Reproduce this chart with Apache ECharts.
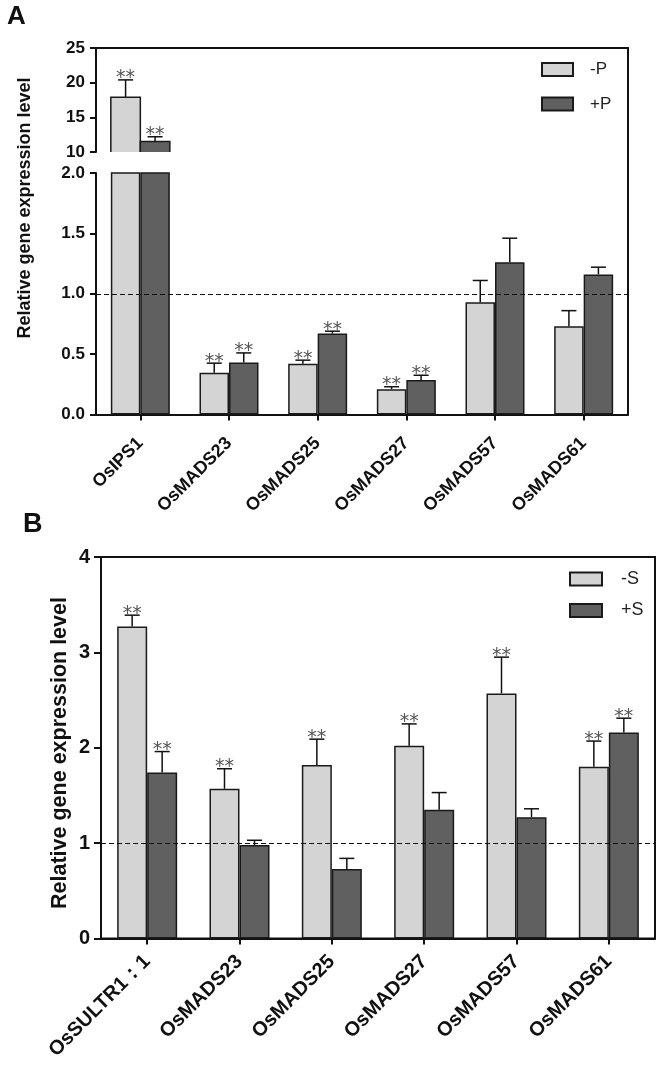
<!DOCTYPE html>
<html>
<head>
<meta charset="utf-8">
<script src="https://cdn.jsdelivr.net/npm/echarts@6/dist/echarts.min.js"></script>
<style>html,body{margin:0;padding:0;background:#fff}#c{width:664px;height:1070px}</style>
</head>
<body>
<div id="c"></div>
<script>
// ---- Panel A data ----
const catsA = ['OsIPS1', 'OsMADS23', 'OsMADS25', 'OsMADS27', 'OsMADS57', 'OsMADS61'];
const minusP = [17.9, 0.345, 0.42, 0.21, 0.93, 0.73];
const minusPErr = [2.5, 0.08, 0.03, 0.02, 0.18, 0.13];
const plusP = [11.5, 0.43, 0.67, 0.285, 1.26, 1.16];
const plusPErr = [0.7, 0.08, 0.02, 0.04, 0.20, 0.06];
const sigMinusP = [1, 1, 1, 1, 0, 0];
const sigPlusP = [1, 1, 1, 1, 0, 0];
const ticksAUpper = [10, 25, 5];   // min, max, interval
const ticksALower = [0, 2, 0.5];

// ---- Panel B data ----
const catsB = ['OsSULTR1：1', 'OsMADS23', 'OsMADS25', 'OsMADS27', 'OsMADS57', 'OsMADS61'];
const minusS = [3.27, 1.57, 1.82, 2.02, 2.57, 1.80];
const minusSErr = [0.12, 0.21, 0.27, 0.23, 0.38, 0.27];
const plusS = [1.74, 0.98, 0.73, 1.35, 1.27, 2.16];
const plusSErr = [0.22, 0.05, 0.11, 0.18, 0.09, 0.15];
const sigMinusS = [1, 1, 1, 1, 1, 1];
const sigPlusS = [1, 0, 0, 0, 0, 1];
const ticksB = [0, 4, 1];

const LIGHT = '#d4d4d4', DARK = '#606060', INK = '#111';
const FONT = '"Liberation Sans", Arial, sans-serif';

function errSeries(xi, yi, vals, errs, sig, side, bw, lo, hi) {
  const data = vals.map((v, i) => [i, v, errs[i], sig[i]])
    .filter(d => d[1] >= lo && d[1] + d[2] <= hi);
  return {
    type: 'custom', xAxisIndex: xi, yAxisIndex: yi, data: data, z: 5, silent: true,
    renderItem: function (params, api) {
      const c = api.value(0), v = api.value(1), e = api.value(2), s = api.value(3);
      const b = api.coord([c, v]);
      const t = api.coord([c, v + e]);
      const x = b[0] + side * bw / 2;
      const ch = [
        { type: 'line', shape: { x1: x, y1: b[1], x2: x, y2: t[1] }, style: { stroke: INK, lineWidth: 1.5 } },
        { type: 'line', shape: { x1: x - 7.5, y1: t[1], x2: x + 7.5, y2: t[1] }, style: { stroke: INK, lineWidth: 1.5 } }
      ];
      if (s) {
        ch.push({ type: 'text', x: x, y: t[1] + 8, style: { text: '**', font: '19px "DejaVu Sans"', fill: '#555', align: 'center', verticalAlign: 'bottom' } });
      }
      return { type: 'group', children: ch };
    }
  };
}

// Bars of the upper (broken) segment: open at the bottom, like the reference
function upperBars(xi, yi, vals, color, side, bw, lo) {
  const data = vals.map((v, i) => [i, v]).filter(d => d[1] >= lo);
  return {
    type: 'custom', xAxisIndex: xi, yAxisIndex: yi, data: data, z: 2, silent: true,
    renderItem: function (params, api) {
      const c = api.value(0), v = api.value(1);
      const t = api.coord([c, v]);
      const b = api.coord([c, lo]);
      const x0 = side < 0 ? t[0] - bw : t[0];
      const x1 = x0 + bw;
      return {
        type: 'group', children: [
          { type: 'rect', shape: { x: x0, y: t[1], width: bw, height: b[1] - t[1] }, style: { fill: color } },
          { type: 'polyline', shape: { points: [[x0, b[1]], [x0, t[1]], [x1, t[1]], [x1, b[1]]] },
            style: { stroke: '#1a1a1a', lineWidth: 1.5, fill: null } }
        ]
      };
    }
  };
}

function barSeries(name, xi, yi, data, color, bw, extra) {
  return Object.assign({
    type: 'bar', name: name, xAxisIndex: xi, yAxisIndex: yi, data: data,
    barWidth: bw, barGap: '0%',
    itemStyle: { color: color, borderColor: '#1a1a1a', borderWidth: 1.5 }
  }, extra || {});
}

const dashLine = {
  silent: true, symbol: 'none', label: { show: false },
  lineStyle: { type: [5, 3], color: INK, width: 1.2 },
  data: [{ yAxis: 1 }]
};

const axisLine = { show: true, lineStyle: { color: INK, width: 2 } };
const yTick = { show: true, length: 6, lineStyle: { color: INK, width: 2 } };
const lblY = (size) => ({ fontSize: size, fontWeight: 'bold', color: INK, fontFamily: FONT, margin: 11 });

const BWA = 29.5, BWB = 30;

const option = {
  animation: false,
  backgroundColor: '#fff',
  grid: [
    { left: 96, right: 36, top: 48, height: 104 },
    { left: 96, right: 36, top: 173, bottom: 655.5 },
    { left: 96, right: 36, top: 48, bottom: 655.5 },
    { left: 101, right: 9, top: 557, bottom: 131.5, show: true, borderColor: INK, borderWidth: 2 }
  ],
  xAxis: [
    { gridIndex: 0, type: 'category', data: catsA, position: 'top', axisLine: axisLine, axisTick: { show: false }, axisLabel: { show: false } },
    { gridIndex: 1, type: 'category', data: catsA, axisLine: axisLine,
      axisTick: { show: true, alignWithLabel: true, length: 6, lineStyle: { color: INK, width: 2 } },
      axisLabel: { interval: 0, rotate: 45, fontSize: 18, fontWeight: 'bold', color: INK, fontFamily: FONT, margin: 26 } },
    { gridIndex: 2, type: 'category', data: catsA, show: false },
    { gridIndex: 3, type: 'category', data: catsB, axisLine: axisLine,
      axisTick: { show: true, alignWithLabel: true, length: 6, lineStyle: { color: INK, width: 2 } },
      axisLabel: { interval: 0, rotate: 45, fontSize: 20, fontWeight: 'bold', color: INK, fontFamily: FONT, margin: 20 } }
  ],
  yAxis: [
    { gridIndex: 0, type: 'value', min: ticksAUpper[0], max: ticksAUpper[1], interval: ticksAUpper[2],
      axisLine: axisLine, axisTick: yTick, splitLine: { show: false }, axisLabel: lblY(17) },
    { gridIndex: 1, type: 'value', min: ticksALower[0], max: ticksALower[1], interval: ticksALower[2],
      axisLine: axisLine, axisTick: yTick, splitLine: { show: false },
      axisLabel: Object.assign(lblY(17), { formatter: v => v.toFixed(1) }) },
    { gridIndex: 2, type: 'value', position: 'right', min: 0, max: 1,
      axisLine: axisLine, axisTick: { show: false }, axisLabel: { show: false }, splitLine: { show: false } },
    { gridIndex: 3, type: 'value', min: ticksB[0], max: ticksB[1], interval: ticksB[2],
      axisLine: axisLine, axisTick: Object.assign({}, yTick, { length: 7 }), splitLine: { show: false }, axisLabel: lblY(20) }
  ],
  legend: [
    { data: ['-P', '+P'], orient: 'vertical', left: 541, top: 61, padding: 0,
      itemWidth: 31, itemHeight: 13, itemGap: 17.5, icon: 'rect',
      textStyle: { fontSize: 17, lineHeight: 17, color: '#222', fontFamily: FONT, padding: [0, 0, 0, 12] } },
    { data: ['-S', '+S'], orient: 'vertical', left: 569, top: 570, padding: 0,
      itemWidth: 32, itemHeight: 13, itemGap: 13.5, icon: 'rect',
      textStyle: { fontSize: 18, lineHeight: 18, color: '#222', fontFamily: FONT, padding: [0, 0, 0, 14] } }
  ],
  graphic: [
    { type: 'text', left: 7, top: 4, style: { text: 'A', font: 'bold 26px ' + FONT, fill: INK } },
    { type: 'text', left: 23, top: 511, style: { text: 'B', font: 'bold 27px ' + FONT, fill: INK } },
    { type: 'text', x: 25, y: 208, rotation: Math.PI / 2,
      style: { text: 'Relative gene expression level', font: 'bold 18px ' + FONT, fill: INK, align: 'center', verticalAlign: 'middle' } },
    { type: 'text', x: 60, y: 753, rotation: Math.PI / 2,
      style: { text: 'Relative gene expression level', font: 'bold 21.5px ' + FONT, fill: INK, align: 'center', verticalAlign: 'middle' } }
  ],
  series: [
    // Panel A upper segment
    upperBars(0, 0, minusP, LIGHT, -1, BWA, ticksAUpper[0]),
    upperBars(0, 0, plusP, DARK, 1, BWA, ticksAUpper[0]),
    errSeries(0, 0, minusP, minusPErr, sigMinusP, -1, BWA, ticksAUpper[0], ticksAUpper[1]),
    errSeries(0, 0, plusP, plusPErr, sigPlusP, 1, BWA, ticksAUpper[0], ticksAUpper[1]),
    // Panel A lower segment
    barSeries('-P', 1, 1, minusP, LIGHT, BWA),
    barSeries('+P', 1, 1, plusP, DARK, BWA, { z: 3, markLine: dashLine }),
    errSeries(1, 1, minusP, minusPErr, sigMinusP, -1, BWA, ticksALower[0], ticksALower[1]),
    errSeries(1, 1, plusP, plusPErr, sigPlusP, 1, BWA, ticksALower[0], ticksALower[1]),
    // Panel B
    barSeries('-S', 3, 3, minusS, LIGHT, BWB),
    barSeries('+S', 3, 3, plusS, DARK, BWB, { z: 3, markLine: dashLine }),
    errSeries(3, 3, minusS, minusSErr, sigMinusS, -1, BWB, ticksB[0], ticksB[1]),
    errSeries(3, 3, plusS, plusSErr, sigPlusS, 1, BWB, ticksB[0], ticksB[1])
  ]
};

const chart = echarts.init(document.getElementById('c'), null, { renderer: 'canvas' });
chart.setOption(option);
</script>
</body>
</html>
